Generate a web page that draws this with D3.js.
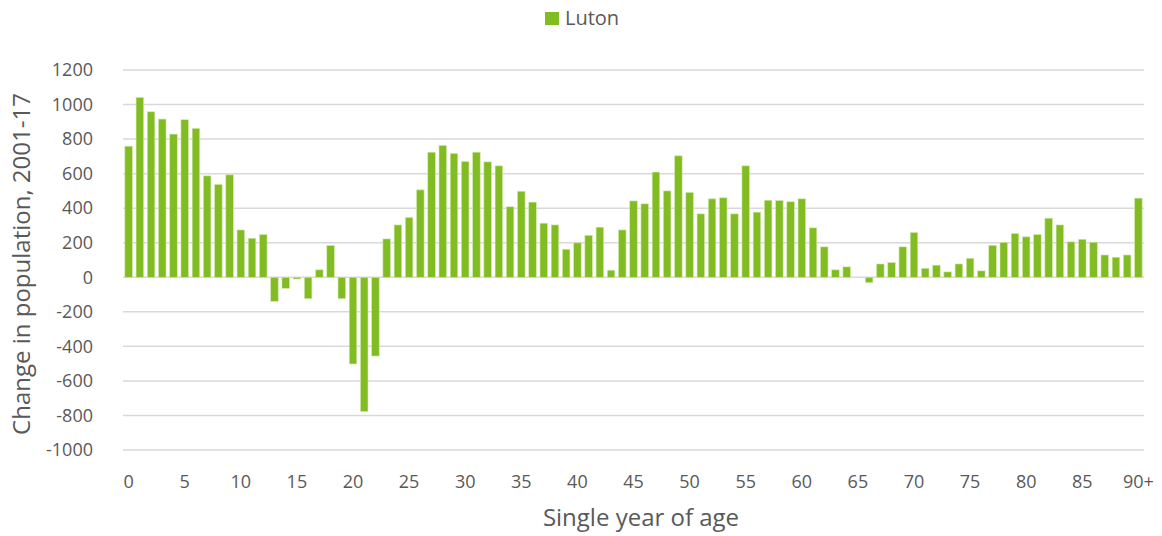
<!DOCTYPE html>
<html>
<head>
<meta charset="utf-8">
<script src="https://cdn.jsdelivr.net/npm/d3@7"></script>
<style>
  body { margin: 0; background: #fff; }
  text { font-family: "Open Sans", "Noto Sans", sans-serif; fill: #595959; }
</style>
</head>
<body>
<div id="chart"></div>
<script>
// change in population 2001-17 by single year of age, Luton
var ages = d3.range(0, 91).map(function(a) { return a === 90 ? "90+" : String(a); });
var change = [
  759, 1041, 958, 916, 829, 912, 862, 587, 537, 593,
  274, 226, 247, -139, -64, -10, -124, 43, 184, -124,
  -502, -777, -456, 222, 303, 346, 506, 724, 763, 717,
  670, 724, 668, 645, 408, 498, 435, 313, 303, 162,
  199, 243, 290, 41, 274, 442, 425, 609, 500, 703,
  491, 367, 454, 460, 367, 645, 377, 446, 444, 437,
  454, 286, 176, 43, 60, 0, -31, 77, 85, 176,
  259, 52, 70, 31, 77, 110, 37, 185, 201, 253,
  234, 247, 342, 303, 205, 220, 203, 129, 116, 129,
  458
];
var yTicks = [-1000, -800, -600, -400, -200, 0, 200, 400, 600, 800, 1000, 1200];
var xTickLabels = ["0","5","10","15","20","25","30","35","40","45","50","55","60","65","70","75","80","85","90+"];
var seriesName = "Luton";

var width = 1162,
    height = 536,
    margin = { top: 70, right: 18, bottom: 86, left: 123 };

var svg = d3.select("#chart").append("svg")
    .attr("width", width)
    .attr("height", height)

var x = d3.scaleBand()
    .domain(ages)
    .range([margin.left, width - margin.right])
    .paddingInner(0.33)
    .paddingOuter(0.165)

var y = d3.scaleLinear()
    .domain([-1000, 1200])
    .range([height - margin.bottom, margin.top])

// gridlines
svg.append("g")
    .selectAll("line")
    .data(yTicks)
    .join("line")
    .attr("x1", margin.left)
    .attr("x2", width - margin.right)
    .attr("y1", function(d) { return y(d); })
    .attr("y2", function(d) { return y(d); })
    .attr("stroke", "#d9d9d9")
    .attr("stroke-width", 1.5)

// y axis labels
var yAxis = svg.append("g")
    .attr("transform", "translate(" + margin.left + ",0)")
    .call(d3.axisLeft(y).tickValues(yTicks).tickSize(0).tickPadding(30)
        .tickFormat(function(d) { return String(d); }))
yAxis.select(".domain").remove()
yAxis.selectAll("text")
    .style("font-size", "18px")
    .attr("fill", "#595959")

// bars
svg.append("g")
    .selectAll("rect")
    .data(change)
    .join("rect")
    .attr("x", function(d, i) { return x(ages[i]); })
    .attr("y", function(d) { return y(Math.max(0, d)); })
    .attr("width", x.bandwidth())
    .attr("height", function(d) { return Math.abs(y(d) - y(0)); })
    .attr("fill", "#82bc23")
    .attr("stroke", "#cfe8a8")
    .attr("stroke-width", 0.6)

// x axis labels
var xAxis = svg.append("g")
    .attr("transform", "translate(0," + (height - margin.bottom) + ")")
    .call(d3.axisBottom(x)
        .tickValues(ages.filter(function(a) { return xTickLabels.indexOf(a) >= 0; }))
        .tickSize(0).tickPadding(25))
xAxis.select(".domain").remove()
xAxis.selectAll("text")
    .style("font-size", "18px")
    .attr("fill", "#595959")

// axis titles
svg.append("text")
    .attr("x", 641)
    .attr("y", 526)
    .attr("text-anchor", "middle")
    .style("font-size", "24px")
    .text("Single year of age")

svg.append("text")
    .attr("transform", "translate(22,264) rotate(-90)")
    .attr("text-anchor", "middle")
    .attr("dy", "0.35em")
    .style("font-size", "24px")
    .text("Change in population, 2001-17")

// legend
var legend = svg.append("g")
    .attr("transform", "translate(545,12)")
legend.append("rect")
    .attr("width", 14)
    .attr("height", 13)
    .attr("fill", "#82bc23")
legend.append("text")
    .attr("x", 20)
    .attr("y", 13)
    .style("font-size", "20px")
    .text(seriesName)
</script>
</body>
</html>
